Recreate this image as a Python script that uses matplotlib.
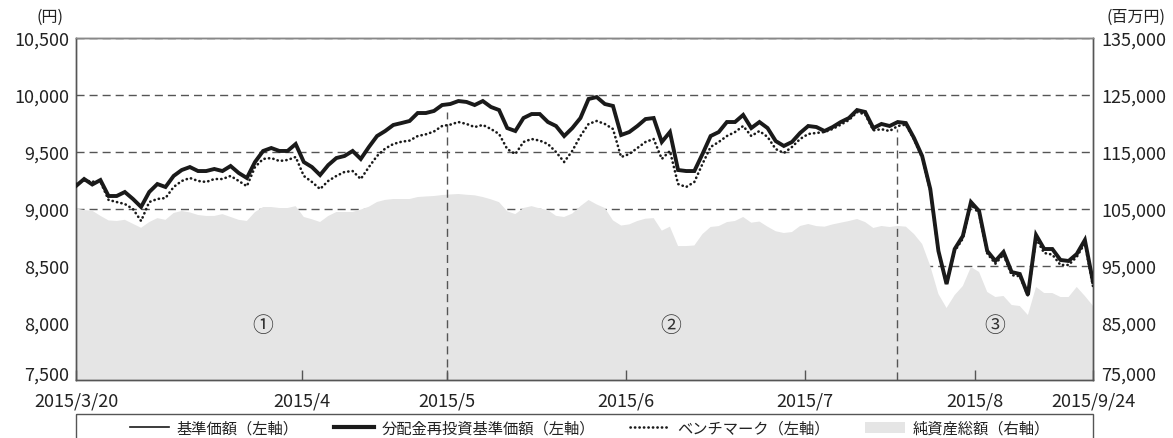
import matplotlib
matplotlib.use("Agg")
import matplotlib.pyplot as plt
import matplotlib.transforms as mtransforms
from matplotlib.lines import Line2D
from matplotlib.patches import Patch, Rectangle
from matplotlib.ticker import FuncFormatter, FixedLocator

plt.rcParams['font.family'] = ['Noto Sans CJK JP', 'DejaVu Sans']

# ---------------- data ----------------
reinvest_nav = [
    9202, 9263, 9215, 9254, 9114, 9114, 9149, 9088, 9018, 9149,
    9219, 9193, 9290, 9342, 9368, 9333, 9333, 9351, 9333, 9377,
    9316, 9272, 9412, 9509, 9535, 9509, 9509, 9570, 9412, 9368,
    9298, 9385, 9447, 9465, 9509, 9439, 9544, 9640, 9684, 9737,
    9754, 9772, 9842, 9842, 9860, 9912, 9921, 9947, 9939, 9912,
    9947, 9895, 9868, 9710, 9684, 9798, 9833, 9833, 9763, 9728,
    9640, 9710, 9798, 9965, 9982, 9921, 9904, 9649, 9675, 9728,
    9789, 9798, 9588, 9675, 9342, 9333, 9333, 9482, 9640, 9675,
    9763, 9763, 9825, 9710, 9763, 9710, 9596, 9553, 9588, 9667,
    9728, 9719, 9684, 9719, 9763, 9798, 9868, 9851, 9710, 9746,
    9728, 9763, 9754, 9623, 9465, 9175, 8632, 8342, 8649, 8763,
    9061, 8982, 8632, 8544, 8623, 8447, 8430, 8246, 8772, 8649,
    8649, 8553, 8544, 8605, 8728, 8360,
]
# 基準価額: no distributions were paid, so it coincides with the reinvested NAV
base_nav = list(reinvest_nav)

benchmark = [
    9220, 9250, 9240, 9240, 9080, 9061, 9044, 9000, 8895, 9061,
    9088, 9096, 9193, 9246, 9272, 9246, 9237, 9263, 9263, 9290,
    9246, 9200, 9368, 9439, 9447, 9421, 9430, 9456, 9290, 9237,
    9175, 9246, 9290, 9325, 9333, 9263, 9368, 9465, 9530, 9570,
    9590, 9600, 9640, 9655, 9680, 9728, 9740, 9763, 9746, 9719,
    9737, 9702, 9658, 9526, 9482, 9588, 9614, 9600, 9570, 9500,
    9412, 9510, 9640, 9746, 9772, 9746, 9702, 9456, 9482, 9535,
    9588, 9614, 9439, 9509, 9219, 9193, 9237, 9395, 9544, 9588,
    9640, 9675, 9728, 9640, 9684, 9632, 9526, 9491, 9544, 9614,
    9658, 9667, 9675, 9702, 9740, 9780, 9850, 9830, 9690, 9700,
    9684, 9728, 9740, 9610, 9450, 9160, 8620, 8340, 8630, 8740,
    9040, 8960, 8610, 8520, 8600, 8420, 8410, 8240, 8740, 8614,
    8600, 8509, 8509, 8580, 8700, 8320,
]

net_assets = [
    105100, 104820, 104700, 103800, 103000, 102900, 103100, 102400, 101700, 102700,
    103400, 103100, 104300, 104650, 104400, 103950, 103780, 103780, 104100, 103600,
    103100, 102900, 104470, 105350, 105350, 105175, 105175, 105500, 103600, 103200,
    102720, 103770, 104470, 104470, 104470, 104900, 105400, 106230, 106600, 106750,
    106750, 106750, 107100, 107200, 107280, 107450, 107550, 107630, 107500, 107400,
    107100, 106700, 106200, 104600, 104100, 105175, 105500, 105100, 104800, 103800,
    103600, 104200, 105500, 106580, 105800, 105170, 103000, 102100, 102300, 102900,
    103300, 103400, 101200, 101900, 98500, 98500, 98600, 100600, 101850, 102000,
    102700, 102900, 103600, 102600, 102800, 101900, 101100, 100790, 100960, 102020,
    102370, 102000, 101900, 102300, 102600, 102890, 103250, 102700, 101670, 102020,
    101840, 102020, 101900, 100610, 98860, 95000, 90090, 87630, 89910, 91490,
    94820, 93950, 90440, 89560, 89740, 88160, 87980, 86400, 91320, 90260,
    90260, 89560, 89560, 91320, 89740, 88000,
]

x_tick_labels = ['2015/3/20', '2015/4', '2015/5', '2015/6', '2015/7', '2015/8', '2015/9/24']
x_tick_index = [0, 27.8, 45.6, 67.6, 89.6, 110.5, 125]

divider_index = [45.6, 100.9]
divider_top = [9850, 9700]

period_labels = ['①', '②', '③']
period_x = [22.9, 73.1, 112.9]
period_y = 7985

left_ticks = [7500, 8000, 8500, 9000, 9500, 10000, 10500]
right_ticks = [75000, 85000, 95000, 105000, 115000, 125000, 135000]

legend_labels = ['基準価額（左軸）', '分配金再投資基準価額（左軸）', 'ベンチマーク（左軸）', '純資産総額（右軸）']

# ---------------- figure ----------------
W, H = 1173, 439
fig = plt.figure(figsize=(W / 100, H / 100), dpi=100)
ax = fig.add_axes([76 / W, 1 - 381 / H, (1093 - 76) / W, (381 - 39) / H])
ax2 = ax.twinx()

x = list(range(len(reinvest_nav)))
edge = '#555555'
txt = '#222222'
area_col = '#e5e5e5'
dash = (0, (5.8, 3.6))
dot = (0, (0.1, 1.6))

# area on right axis, placed below the line axis
ax2.fill_between(x, 0, net_assets, color=area_col, lw=0, zorder=2)
ax2.set_ylim(right_ticks[0], right_ticks[-1])
ax2.yaxis.set_major_locator(FixedLocator(right_ticks))
ax2.set_axisbelow(True)
ax2.yaxis.grid(True, linestyle=dash, color=edge, lw=1.0)
ax2.xaxis.grid(False)

ax.set_zorder(ax2.get_zorder() + 1)
ax.patch.set_visible(False)

ax.plot(x, base_nav, color='#1a1a1a', lw=1.2, zorder=3, solid_joinstyle='miter')
ax.plot(x, benchmark, color='#1a1a1a', lw=1.9, linestyle=dot,
        dash_capstyle='round', zorder=4)
ax.plot(x, reinvest_nav, color='#1a1a1a', lw=2.8, zorder=5, solid_joinstyle='miter')

for xi, top in zip(divider_index, divider_top):
    ax.plot([xi, xi], [left_ticks[0], top], color=edge, lw=1.0, linestyle=dash, zorder=2)

for lab, px in zip(period_labels, period_x):
    ax.text(px, period_y, lab, ha='center', va='center', fontsize=15, color='#333333')

ax.set_xlim(0, len(reinvest_nav) - 1)
ax.set_ylim(left_ticks[0], left_ticks[-1])
ax.yaxis.set_major_locator(FixedLocator(left_ticks))
ax.set_xticks(x_tick_index)
ax.set_xticklabels(x_tick_labels)

fmt = FuncFormatter(lambda v, p: f'{int(v):,}')
ax.yaxis.set_major_formatter(fmt)
ax2.yaxis.set_major_formatter(fmt)

ax.tick_params(axis='y', length=0, pad=5, labelsize=13, labelcolor=txt)
ax2.tick_params(axis='y', length=0, pad=6, labelsize=13, labelcolor=txt)
ax.tick_params(axis='x', direction='in', length=7, width=1, color=edge, pad=8,
               labelsize=13, labelcolor=txt)

# lift the bottom y labels a little, as in the reference
lift = mtransforms.ScaledTranslation(0, 7 / 100, fig.dpi_scale_trans)
for a in (ax, ax2):
    t0 = a.yaxis.get_major_ticks()[0]
    for lab in (t0.label1, t0.label2):
        lab.set_transform(lab.get_transform() + lift)

for a in (ax, ax2):
    for s in a.spines.values():
        s.set_color(edge)
        s.set_linewidth(1.0)
ax.spines['top'].set_color('#888888')

fig.text(50 / W, 1 - 17 / H, '(円)', ha='center', va='center', fontsize=11.5, color=txt)
fig.text(1136 / W, 1 - 17 / H, '(百万円)', ha='center', va='center', fontsize=11.5, color=txt)

# legend box spanning the plot width, reaching past the bottom edge
box_top = -(415 - 381) / (381 - 39)
ax.add_patch(Rectangle((0, box_top), 1, -0.3, transform=ax.transAxes, fill=False,
                       edgecolor=edge, lw=1.0, clip_on=False, zorder=1))

handles = [
    Line2D([], [], color='#1a1a1a', lw=1.2),
    Line2D([], [], color='#1a1a1a', lw=3.0),
    Line2D([], [], color='#1a1a1a', lw=1.9, linestyle=dot, dash_capstyle='round'),
    Patch(facecolor=area_col, edgecolor='none'),
]
leg = ax.legend(handles, legend_labels, loc='upper center', bbox_to_anchor=(0.505, box_top - 0.008),
                ncol=4, fontsize=11, frameon=False, borderaxespad=0, handlelength=2.6,
                handletextpad=0.5, columnspacing=2.3, borderpad=0.2)
for t in leg.get_texts():
    t.set_color(txt)

fig.savefig('out.png', dpi=100)
